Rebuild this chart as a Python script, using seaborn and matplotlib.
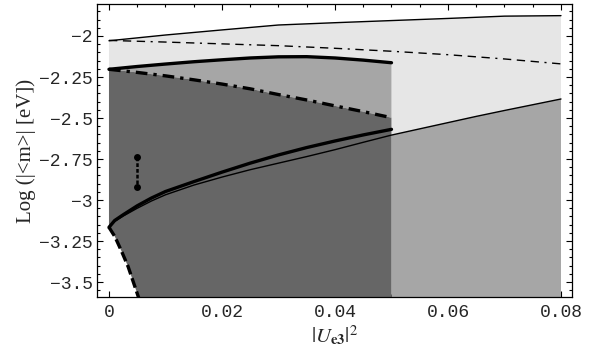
"""Allowed |<m>| regions versus |U_e3|^2 (grey bands, Mathematica-style frame)."""

import matplotlib
matplotlib.use("Agg")
import matplotlib.pyplot as plt
import numpy as np
import seaborn as sns

sns.set_style("ticks")
plt.rcParams["mathtext.fontset"] = "stix"

LIGHT = "#e6e6e6"
MEDIUM = "#a6a6a6"
DARK = "#666666"

X_MIN, X_MAX = -0.00212, 0.08195
Y_MIN, Y_MAX = -3.591, -1.805
Y_FLOOR = -3.7

# upper thin solid boundary
TOP_X = [0, 0.01, 0.02, 0.03, 0.04, 0.05, 0.06, 0.07, 0.08]
TOP_Y = [-2.029, -1.994, -1.963, -1.933, -1.919, -1.906, -1.893, -1.879, -1.876]

# upper thin dashed line
DASH_TOP_X = [0, 0.01, 0.02, 0.03, 0.04, 0.05, 0.06, 0.07, 0.08]
DASH_TOP_Y = [-2.027, -2.037, -2.048, -2.059, -2.075, -2.093, -2.114, -2.140, -2.170]

# thick lines, 0 <= x <= 0.05
GRID_X = [0, 0.005, 0.01, 0.015, 0.02, 0.025, 0.03, 0.035, 0.04, 0.045, 0.05]
THICK_UP_Y = [-2.203, -2.186, -2.171, -2.157, -2.145, -2.134, -2.127, -2.126,
              -2.134, -2.147, -2.163]
THICK_DASHDOT_Y = [-2.203, -2.222, -2.243, -2.267, -2.293, -2.322, -2.357, -2.390,
                   -2.426, -2.461, -2.498]

# lower rising curves
LOW_X = [0, 0.001, 0.0025, 0.005, 0.0075, 0.01, 0.015, 0.02, 0.025, 0.03, 0.035,
         0.04, 0.045, 0.05]
LOW_THICK_Y = [-3.166, -3.125, -3.090, -3.035, -2.988, -2.948, -2.888, -2.830,
               -2.775, -2.725, -2.680, -2.640, -2.603, -2.569]
THIN_X = LOW_X + [0.055, 0.06, 0.065, 0.07, 0.075, 0.08]
THIN_Y = [-3.166, -3.130, -3.098, -3.050, -3.006, -2.968, -2.909, -2.860,
          -2.815, -2.775, -2.735, -2.693, -2.648, -2.604,
          -2.566, -2.528, -2.490, -2.454, -2.419, -2.384]

# lower-left thick dashed edge
EDGE_X = [0, 0.00106, 0.0022, 0.0034, 0.0044, 0.0052, 0.0055]
EDGE_Y = [-3.166, -3.224, -3.310, -3.407, -3.509, -3.590, -3.620]

# short vertical bar
BAR_X = [0.0049, 0.0049]
BAR_Y = [-2.738, -2.919]

X_TICKS = [0, 0.02, 0.04, 0.06, 0.08]
X_TICK_LABELS = ["0", "0.02", "0.04", "0.06", "0.08"]
Y_TICKS = [-3.5, -3.25, -3, -2.75, -2.5, -2.25, -2]
Y_TICK_LABELS = ["\u22123.5", "\u22123.25", "\u22123", "\u22122.75", "\u22122.5",
                 "\u22122.25", "\u22122"]

MONO = ["Liberation Mono", "DejaVu Sans Mono"]

fig = plt.figure(figsize=(5.9, 3.54), dpi=100)
ax = fig.add_axes([0.1644, 0.161, 0.8051, 0.8277])

thin_x = np.array(THIN_X)
thin_y = np.array(THIN_Y)
right = thin_x >= 0.05

# light band: top line down to thick upper / thin right part
light_x = np.concatenate([TOP_X, thin_x[right][::-1], GRID_X[::-1]])
light_y = np.concatenate([TOP_Y, thin_y[right][::-1], THICK_UP_Y[::-1]])
ax.fill(light_x, light_y, color=LIGHT, lw=0)

# medium band, left part
ax.fill(np.concatenate([GRID_X, GRID_X[::-1]]),
        np.concatenate([THICK_UP_Y, THICK_DASHDOT_Y[::-1]]), color=MEDIUM, lw=0)

# medium band, right part
ax.fill(np.concatenate([thin_x[right], [thin_x[right][-1], thin_x[right][0]]]),
        np.concatenate([thin_y[right], [Y_FLOOR, Y_FLOOR]]), color=MEDIUM, lw=0)

# dark band
dark_x = np.concatenate([GRID_X, [GRID_X[-1], EDGE_X[-1]], EDGE_X[::-1]])
dark_y = np.concatenate([THICK_DASHDOT_Y, [Y_FLOOR, Y_FLOOR], EDGE_Y[::-1]])
ax.fill(dark_x, dark_y, color=DARK, lw=0)

line_kw = dict(ax=ax, color="black", estimator=None, sort=False, legend=False)
sns.lineplot(x=TOP_X, y=TOP_Y, linewidth=1.0, **line_kw)
sns.lineplot(x=DASH_TOP_X, y=DASH_TOP_Y, linewidth=1.0,
             linestyle=(0, (6, 4, 6, 4, 6, 4, 1.5, 4)), **line_kw)
sns.lineplot(x=GRID_X, y=THICK_UP_Y, linewidth=2.4, **line_kw)
sns.lineplot(x=GRID_X, y=THICK_DASHDOT_Y, linewidth=2.4,
             linestyle=(0, (3.5, 1.8, 1, 1.8)), **line_kw)
sns.lineplot(x=LOW_X, y=LOW_THICK_Y, linewidth=2.4, **line_kw)
sns.lineplot(x=THIN_X, y=THIN_Y, linewidth=1.0, **line_kw)
sns.lineplot(x=EDGE_X, y=EDGE_Y, linewidth=2.4,
             linestyle=(0, (3, 1.2)), **line_kw)
sns.lineplot(x=BAR_X, y=BAR_Y, linewidth=1.8, linestyle=(0, (1.5, 0.8)),
             marker="o", markersize=5, markeredgewidth=0, **line_kw)

ax.set_xlim(X_MIN, X_MAX)
ax.set_ylim(Y_MIN, Y_MAX)
ax.set_xticks(X_TICKS)
ax.set_xticklabels(X_TICK_LABELS, family=MONO, fontsize=13)
ax.set_yticks(Y_TICKS)
ax.set_yticklabels(Y_TICK_LABELS, family=MONO, fontsize=13)
ax.set_xticks(np.arange(0, 0.0801, 0.005), minor=True)
ax.set_yticks(np.arange(-3.55, -1.80, 0.05), minor=True)
ax.tick_params(which="both", direction="in", top=True, right=True, width=0.8,
               color="black")
ax.tick_params(which="major", length=4.5)
ax.tick_params(which="minor", length=2.5)
ax.tick_params(axis="y", pad=3)
ax.tick_params(axis="x", pad=5)
for side in ax.spines.values():
    side.set_linewidth(0.9)
    side.set_color("black")

ax.set_xlabel(r"$|U_{\mathbf{e3}}|^2$", fontsize=15, labelpad=2)
ax.set_ylabel("Log (|<m>| [eV])", family="Liberation Serif", fontsize=15,
              labelpad=2)

fig.savefig("out.png", dpi=100)
